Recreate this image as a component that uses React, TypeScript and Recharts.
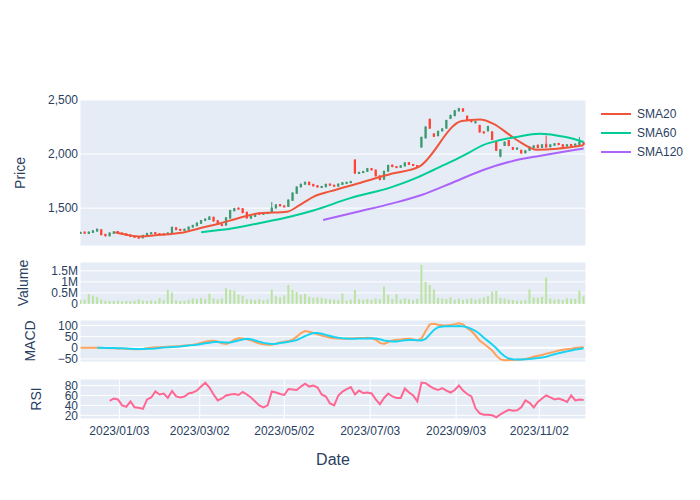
import React from "react";
import {
  Bar,
  CartesianGrid,
  ComposedChart,
  Line,
  ReferenceLine,
  XAxis,
  YAxis,
} from "recharts";

// sessions sampled every third calendar day starting at FIRST_SESSION
const FIRST_SESSION = "2022/12/06";
const SESSION_STEP = 3;

const opens = [
  1268, 1278, 1266, 1276, 1288, 1300, 1258, 1244, 1268, 1282,
  1270, 1262, 1252, 1240, 1232, 1226, 1246, 1268, 1274, 1264,
  1262, 1256, 1272, 1318, 1304, 1294, 1304, 1326, 1338, 1360,
  1388, 1396, 1416, 1384, 1348, 1344, 1408, 1476, 1500, 1495,
  1462, 1408, 1424, 1452, 1444, 1450, 1462, 1502, 1532, 1520,
  1516, 1572, 1638, 1698, 1722, 1740, 1720, 1708, 1694, 1698,
  1722, 1712, 1704, 1720, 1734, 1740, 1945, 1826, 1832, 1840,
  1866, 1852, 1798, 1768, 1842, 1898, 1884, 1878, 1890, 1920,
  1904, 1894, 2065, 2150, 2320, 2185, 2170, 2215, 2240, 2330,
  2355, 2400, 2418, 2350, 2310, 2290, 2265, 2205, 2215, 2205,
  2110, 1980, 2080, 2125, 2060, 2048, 2035, 2012, 2035, 2060,
  2082, 2062, 2090, 2068, 2082, 2098, 2086, 2074, 2088, 2080,
  2090, 2105,
];
const closes = [
  1275, 1270, 1278, 1290, 1305, 1255, 1245, 1270, 1280, 1268,
  1262, 1250, 1238, 1230, 1225, 1248, 1266, 1272, 1265, 1262,
  1258, 1270, 1322, 1302, 1296, 1305, 1325, 1340, 1362, 1385,
  1398, 1418, 1382, 1350, 1342, 1410, 1478, 1495, 1497, 1460,
  1410, 1425, 1450, 1446, 1452, 1460, 1500, 1530, 1522, 1518,
  1575, 1640, 1695, 1720, 1738, 1718, 1706, 1696, 1700, 1720,
  1714, 1705, 1722, 1735, 1738, 1745, 1825, 1830, 1838, 1865,
  1855, 1800, 1765, 1840, 1895, 1885, 1880, 1892, 1918, 1905,
  1895, 1882, 2155, 2250, 2240, 2165, 2210, 2232, 2310, 2357,
  2400, 2419, 2398, 2312, 2300, 2300, 2205, 2200, 2255, 2135,
  2035, 2040, 2110, 2080, 2045, 2055, 2010, 2030, 2065, 2075,
  2060, 2085, 2065, 2085, 2095, 2088, 2072, 2085, 2078, 2092,
  2110, 2090,
];
const highs = [
  1282, 1284, 1285, 1298, 1312, 1304, 1262, 1276, 1286, 1288,
  1275, 1266, 1256, 1245, 1236, 1254, 1272, 1280, 1278, 1270,
  1268, 1276, 1330, 1324, 1308, 1310, 1330, 1346, 1368, 1390,
  1405, 1425, 1420, 1388, 1356, 1416, 1485, 1502, 1506, 1498,
  1466, 1432, 1456, 1458, 1458, 1466, 1556, 1536, 1538, 1526,
  1580, 1646, 1702, 1728, 1746, 1744, 1724, 1712, 1706, 1726,
  1728, 1716, 1728, 1740, 1744, 1752, 1950, 1838, 1846, 1872,
  1870, 1856, 1802, 1846, 1902, 1902, 1890, 1898, 1926, 1924,
  1908, 1898, 2160, 2258, 2330, 2195, 2216, 2240, 2318, 2365,
  2408, 2428, 2424, 2356, 2318, 2306, 2270, 2212, 2262, 2210,
  2115, 2046, 2116, 2130, 2066, 2062, 2040, 2036, 2070, 2082,
  2088, 2092, 2172, 2092, 2100, 2104, 2090, 2092, 2094, 2098,
  2158, 2110,
];
const lows = [
  1262, 1264, 1262, 1272, 1284, 1248, 1238, 1240, 1262, 1262,
  1256, 1245, 1232, 1224, 1218, 1222, 1242, 1260, 1258, 1255,
  1250, 1252, 1268, 1296, 1290, 1290, 1300, 1320, 1334, 1356,
  1380, 1390, 1376, 1344, 1335, 1340, 1402, 1470, 1488, 1452,
  1402, 1402, 1420, 1440, 1438, 1446, 1458, 1496, 1516, 1510,
  1512, 1568, 1632, 1690, 1716, 1712, 1700, 1690, 1688, 1694,
  1708, 1698, 1700, 1716, 1728, 1734, 1815, 1818, 1826, 1836,
  1848, 1792, 1756, 1762, 1838, 1878, 1872, 1874, 1886, 1898,
  1888, 1876, 2060, 2145, 2232, 2158, 2165, 2208, 2236, 2325,
  2350, 2394, 2390, 2304, 2292, 2282, 2198, 2190, 2210, 2128,
  2028, 1970, 2074, 2072, 2038, 2040, 2004, 2006, 2030, 2055,
  2054, 2058, 2060, 2062, 2076, 2082, 2066, 2070, 2072, 2075,
  2086, 2084,
];
const volumes = [
  180000, 200000, 450000, 380000, 320000, 210000, 150000, 130000, 140000, 150000,
  120000, 140000, 130000, 150000, 220000, 150000, 140000, 160000, 130000, 270000,
  180000, 640000, 520000, 160000, 140000, 150000, 200000, 250000, 230000, 280000,
  220000, 470000, 260000, 210000, 250000, 710000, 640000, 600000, 420000, 380000,
  220000, 200000, 180000, 230000, 170000, 200000, 650000, 350000, 300000, 380000,
  860000, 640000, 540000, 420000, 460000, 330000, 280000, 300000, 280000, 250000,
  220000, 200000, 180000, 480000, 150000, 200000, 640000, 220000, 200000, 230000,
  190000, 250000, 220000, 790000, 420000, 230000, 450000, 200000, 260000, 220000,
  180000, 230000, 1770000, 1000000, 860000, 650000, 280000, 250000, 220000, 300000,
  200000, 250000, 180000, 220000, 260000, 200000, 240000, 300000, 350000, 550000,
  600000, 280000, 250000, 200000, 180000, 150000, 160000, 180000, 660000, 300000,
  280000, 320000, 1200000, 250000, 200000, 220000, 180000, 260000, 240000, 230000,
  600000, 350000,
];
const macd = [
  0, 0, 0, 0, 0, -1, -1, -2, -2, -3,
  -3, -4, -5, -6, -6, -5, -2, 0, 2, 3,
  4, 5, 6, 6, 8, 10, 12, 14, 17, 22,
  27, 31, 32, 28, 20, 17, 24, 36, 43, 42,
  38, 33, 26, 19, 16, 14, 14, 18, 24, 27,
  30, 36, 50, 66, 75, 72, 66, 60, 55, 50,
  45, 43, 42, 41, 41, 42, 43, 44, 44, 45,
  44, 36, 22, 17, 26, 33, 36, 37, 39, 40,
  38, 33, 42, 75, 105, 108, 103, 101, 100, 102,
  106, 110, 105, 88, 75, 55, 32, 18, 4, -12,
  -35, -52, -56, -55, -55, -54, -52, -50, -45, -40,
  -36, -32, -26, -22, -17, -12, -9, -6, -4, -1,
  1, 3,
];
const signal = [
  null, null, null, null, 0, 0, -1, -1, -1, -2,
  -2, -3, -4, -5, -5, -5, -4, -4, -3, -1,
  1, 2, 4, 5, 6, 8, 10, 12, 14, 17,
  20, 23, 26, 26, 25, 24, 24, 28, 33, 37,
  40, 38, 33, 27, 22, 19, 17, 18, 21, 24,
  27, 30, 35, 43, 52, 60, 66, 66, 63, 58,
  53, 48, 45, 43, 42, 41, 41, 42, 42, 42,
  43, 42, 38, 33, 30, 28, 28, 31, 34, 35,
  35, 34, 33, 40, 60, 80, 92, 95, 96, 97,
  97, 98, 96, 92, 85, 75, 62, 45, 30, 15,
  -2, -22, -38, -48, -51, -52, -52, -51, -50, -48,
  -46, -43, -40, -34, -29, -24, -20, -16, -12, -8,
  -5, -2,
];
const rsi = [
  null, null, null, null, null, null, null, 49, 54, 52,
  40, 37, 48, 36, 35, 33, 52, 56, 68, 62,
  64, 55, 69, 58, 56, 58, 64, 66, 70, 78,
  86, 76, 62, 50, 54, 60, 62, 63, 61, 67,
  62, 56, 48, 40, 36, 40, 68, 66, 63, 61,
  73, 72, 71, 78, 84, 78, 80, 76, 62, 58,
  44, 40, 60, 68, 73, 77, 62, 70, 65, 66,
  64, 52, 42, 55, 64, 58, 55, 55, 74, 66,
  60, 48, 86, 85, 79, 74, 71, 75, 70, 66,
  71, 80, 70, 63, 58, 34, 24, 21, 21, 20,
  16, 22, 27, 31, 29, 30, 36, 50, 45, 36,
  47, 54, 60, 56, 52, 54, 51, 47, 60, 50,
  52, 51,
];

const sma20: [string, number][] = [
  ["2022/12/31", 1277], ["2023/01/09", 1252], ["2023/01/19", 1237], ["2023/01/29", 1250],
  ["2023/02/07", 1259], ["2023/02/19", 1277], ["2023/03/02", 1314], ["2023/03/17", 1360],
  ["2023/03/31", 1412], ["2023/04/14", 1452], ["2023/05/04", 1467], ["2023/05/13", 1528],
  ["2023/05/23", 1605], ["2023/06/04", 1655], ["2023/06/24", 1728], ["2023/07/19", 1820],
  ["2023/08/07", 1881], ["2023/09/07", 2305], ["2023/09/20", 2320], ["2023/09/30", 2280],
  ["2023/10/12", 2173], ["2023/10/21", 2097], ["2023/10/31", 2041], ["2023/11/15", 2050],
  ["2023/12/04", 2081],
];
const sma60: [string, number][] = [
  ["2023/03/03", 1278], ["2023/03/26", 1314], ["2023/04/19", 1375], ["2023/05/06", 1421],
  ["2023/05/23", 1478], ["2023/06/18", 1590], ["2023/07/19", 1697], ["2023/08/07", 1789],
  ["2023/08/18", 1855], ["2023/08/30", 1927], ["2023/09/13", 2019], ["2023/09/22", 2081],
  ["2023/10/04", 2127], ["2023/10/16", 2157], ["2023/11/02", 2189], ["2023/11/21", 2157],
  ["2023/12/04", 2112],
];
const sma120: [string, number][] = [
  ["2023/05/30", 1390], ["2023/06/24", 1467], ["2023/07/19", 1544], ["2023/08/09", 1621],
  ["2023/08/30", 1728], ["2023/09/22", 1851], ["2023/10/16", 1943], ["2023/11/02", 1983],
  ["2023/12/04", 2051],
];

const xTickLabels = ["2023/01/03", "2023/03/02", "2023/05/02", "2023/07/03", "2023/09/03", "2023/11/02"];
const priceTicks = [1500, 2000, 2500];
const volumeTicks = [0, 500000, 1000000, 1500000];
const macdTicks = [-50, 0, 50, 100];
const rsiTicks = [20, 40, 60, 80];

const DAY_MS = 86400000;
const ORIGIN = Date.UTC(2022, 11, 5);
const toDay = (s: string) => {
  const [y, m, d] = s.split("/").map(Number);
  return (Date.UTC(y, m - 1, d) - ORIGIN) / DAY_MS;
};
const xTicks = xTickLabels.map(toDay);
const X_DOMAIN: [number, number] = [0.6, 365.7];

const rows = opens.map((open, i) => ({
  day: toDay(FIRST_SESSION) + i * SESSION_STEP,
  open,
  close: closes[i],
  high: highs[i],
  low: lows[i],
  range: [lows[i], highs[i]],
  volume: volumes[i],
  macd: macd[i],
  signal: signal[i],
  rsi: rsi[i],
}));
const toRows = (pts: [string, number][]) => pts.map(([d, value]) => ({ day: toDay(d), value }));

const FONT = '"Liberation Sans", Arial, Helvetica, sans-serif';
const TEXT = "#2a3f5f";
const BG = "#E5ECF6";
const UP = "#3D9970";
const DOWN = "#FF4136";
const C20 = "#EF553B";
const C60 = "#00CC96";
const C120 = "#AB63FA";
const TICK = { fill: TEXT, fontSize: 12, fontFamily: FONT };
const W = 700;
const MARGIN_RIGHT = 114;

function Candle(props: any) {
  const { x, y, width, height, payload } = props;
  if (x == null || y == null) return null;
  const { open, close, high, low } = payload;
  const color = close >= open ? UP : DOWN;
  const top = Math.min(y, y + height);
  const h = Math.abs(height);
  const span = high - low || 1;
  const toY = (v: number) => top + ((high - v) / span) * h;
  const cx = x + width / 2;
  const bTop = toY(Math.max(open, close));
  const bBot = toY(Math.min(open, close));
  return (
    <g>
      <line x1={cx} x2={cx} y1={top} y2={top + h} stroke={color} strokeWidth={1} />
      <rect x={x} y={bTop} width={width} height={Math.max(bBot - bTop, 1)} fill={color} stroke={color} strokeWidth={1} />
    </g>
  );
}

function HiddenX() {
  return (
    <XAxis
      dataKey="day"
      type="number"
      domain={X_DOMAIN}
      ticks={xTicks}
      allowDataOverflow
      tick={false}
      axisLine={false}
      tickLine={false}
      height={0}
    />
  );
}

function yAxisProps(domain: [number, number], ticks: number[], fmt?: (v: number) => string) {
  return {
    type: "number" as const,
    domain,
    ticks,
    interval: 0 as const,
    allowDataOverflow: true,
    tick: TICK,
    tickLine: false,
    axisLine: false,
    tickSize: 0,
    tickMargin: 2,
    width: 80,
    tickFormatter: fmt,
  };
}

function VTitle({ text, x, y }: { text: string; x: number; y: number }) {
  return (
    <div
      style={{
        position: "absolute",
        left: x,
        top: y,
        transform: "translate(-50%, -50%) rotate(-90deg)",
        fontSize: 14,
        color: TEXT,
        fontFamily: FONT,
        whiteSpace: "nowrap",
        lineHeight: 1,
      }}
    >
      {text}
    </div>
  );
}

const legendItems = [
  { name: "SMA20", color: C20 },
  { name: "SMA60", color: C60 },
  { name: "SMA120", color: C120 },
];

const fmtVolume = (v: number) => (v === 0 ? "0" : `${v / 1000000}M`);
const fmtMinus = (v: number) => String(v).replace("-", "\u2212");
const fmtComma = (v: number) => v.toLocaleString("en-US");

export default function App() {
  return (
    <div style={{ position: "absolute", left: 0, top: 0, width: W, height: 500, background: "#fff", fontFamily: FONT }}>
      <div style={{ position: "absolute", left: 0, top: 0 }}>
        <ComposedChart width={W} height={250} data={rows} margin={{ top: 100, right: MARGIN_RIGHT, bottom: 4, left: 0 }}>
          <CartesianGrid fill={BG} stroke="#fff" strokeWidth={1} />
          <HiddenX />
          <YAxis {...yAxisProps([1150, 2500], priceTicks, fmtComma)} />
          <Bar dataKey="range" barSize={3} shape={<Candle />} isAnimationActive={false} />
          <Line data={toRows(sma20)} dataKey="value" stroke={C20} strokeWidth={2} dot={false} activeDot={false} type="monotone" isAnimationActive={false} />
          <Line data={toRows(sma60)} dataKey="value" stroke={C60} strokeWidth={2} dot={false} activeDot={false} type="monotone" isAnimationActive={false} />
          <Line data={toRows(sma120)} dataKey="value" stroke={C120} strokeWidth={2} dot={false} activeDot={false} type="monotone" isAnimationActive={false} />
        </ComposedChart>
      </div>

      <div style={{ position: "absolute", left: 0, top: 250 }}>
        <ComposedChart width={W} height={60} data={rows} margin={{ top: 12, right: MARGIN_RIGHT, bottom: 6, left: 0 }}>
          <CartesianGrid fill={BG} stroke="#fff" strokeWidth={1} />
          <HiddenX />
          <YAxis {...yAxisProps([0, 1900000], volumeTicks, fmtVolume)} />
          <Bar dataKey="volume" barSize={2} fill="#bde3a1" isAnimationActive={false} />
        </ComposedChart>
      </div>

      <div style={{ position: "absolute", left: 0, top: 310 }}>
        <ComposedChart width={W} height={56} data={rows} margin={{ top: 10, right: MARGIN_RIGHT, bottom: 4, left: 0 }}>
          <CartesianGrid fill={BG} stroke="#fff" strokeWidth={1} />
          <HiddenX />
          <YAxis {...yAxisProps([-63.6, 124.5], macdTicks, fmtMinus)} />
          <ReferenceLine y={0} stroke="#fff" strokeWidth={2} />
          <Line dataKey="macd" stroke="#FFA15A" strokeWidth={2} dot={false} activeDot={false} isAnimationActive={false} />
          <Line dataKey="signal" stroke="#19D3F3" strokeWidth={2} dot={false} activeDot={false} isAnimationActive={false} />
        </ComposedChart>
      </div>

      <div style={{ position: "absolute", left: 0, top: 366 }}>
        <ComposedChart width={W} height={134} data={rows} margin={{ top: 13, right: MARGIN_RIGHT, bottom: 51, left: 0 }}>
          <CartesianGrid fill={BG} stroke="#fff" strokeWidth={1} />
          <XAxis
            dataKey="day"
            type="number"
            domain={X_DOMAIN}
            ticks={xTicks}
            interval={0}
            allowDataOverflow
            tick={TICK}
            tickLine={false}
            axisLine={false}
            tickSize={0}
            tickMargin={7}
            height={30}
            tickFormatter={(v: number) => xTickLabels[xTicks.indexOf(v)] ?? ""}
          />
          <YAxis {...yAxisProps([12.5, 93.3], rsiTicks)} />
          <Line dataKey="rsi" stroke="#FF6692" strokeWidth={2} dot={false} activeDot={false} isAnimationActive={false} />
        </ComposedChart>
      </div>

      <VTitle text="Price" x={20} y={173} />
      <VTitle text="Valume" x={23} y={283} />
      <VTitle text="MACD" x={30} y={341} />
      <VTitle text="RSI" x={36} y={399} />
      <div
        style={{
          position: "absolute",
          left: 333,
          top: 460,
          transform: "translate(-50%, -50%)",
          fontSize: 16,
          color: TEXT,
          fontFamily: FONT,
          lineHeight: 1,
        }}
      >
        Date
      </div>

      {legendItems.map((it, i) => (
        <div key={it.name} style={{ position: "absolute", left: 601, top: 114 + i * 19 - 8, height: 16, display: "flex", alignItems: "center" }}>
          <div style={{ width: 30, height: 2, background: it.color }} />
          <span style={{ marginLeft: 6, fontSize: 12, color: TEXT, fontFamily: FONT }}>{it.name}</span>
        </div>
      ))}
    </div>
  );
}
